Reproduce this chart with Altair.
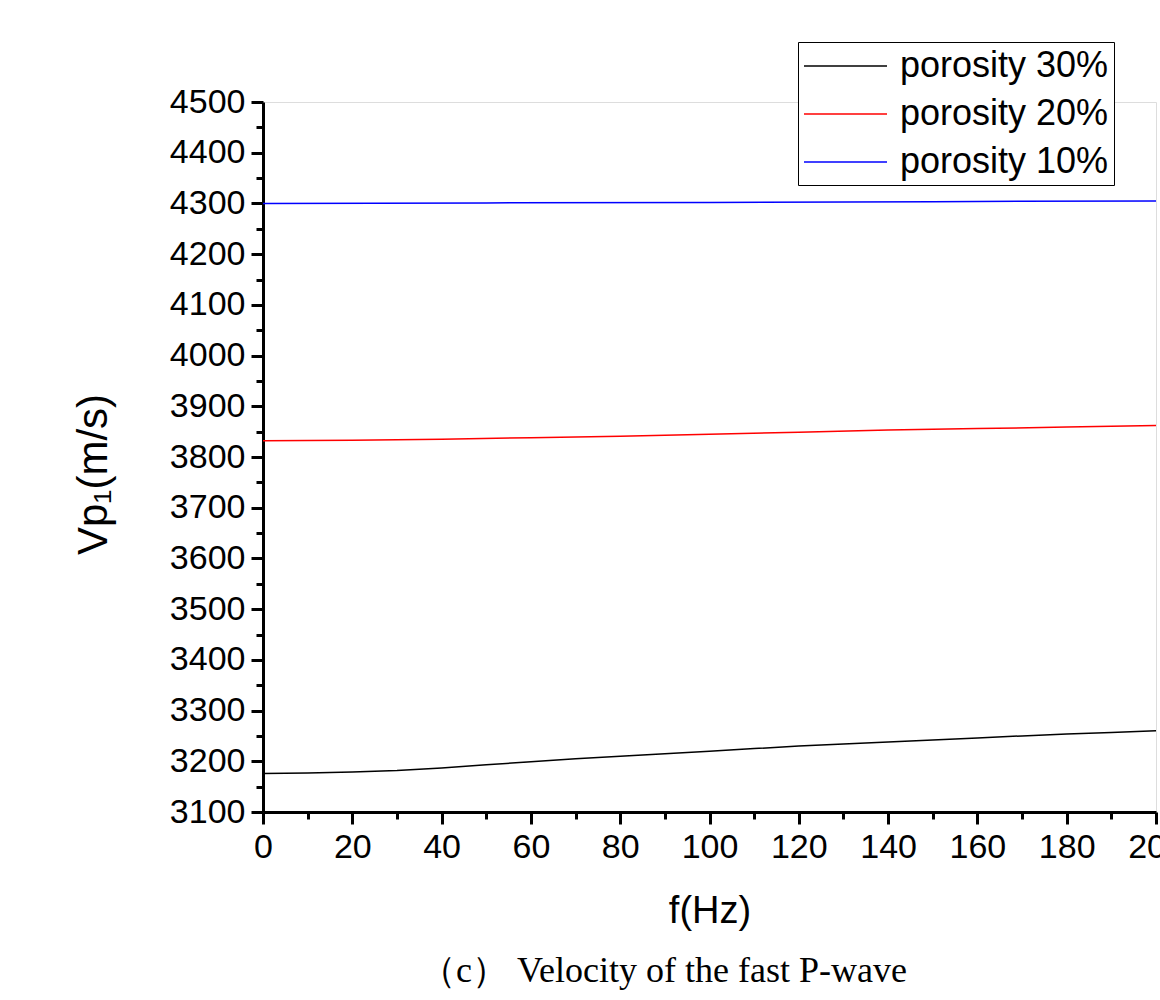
import altair as alt
import pandas as pd

# frequency (Hz)
freq_30 = [0, 10, 20, 30, 40, 50, 60, 70, 80, 90, 100, 110, 120, 130, 140, 150, 160, 170, 180, 190, 200]
vp_30 = [3176, 3177, 3179, 3182, 3187, 3193, 3199, 3205, 3210, 3215, 3220, 3225, 3230, 3234, 3238, 3242, 3246, 3250, 3254, 3257, 3260]

freq_20 = [0, 20, 40, 60, 80, 100, 120, 140, 160, 180, 200]
vp_20 = [3832, 3833, 3835, 3838, 3841, 3845, 3849, 3853, 3856, 3859, 3862]

freq_10 = [0, 50, 100, 150, 200]
vp_10 = [4300, 4301, 4302, 4303.5, 4305]

series_names = ["porosity 30%", "porosity 20%", "porosity 10%"]
series_colors = ["#000000", "#ff0000", "#0000ff"]

x_major = list(range(0, 201, 20))
x_minor = list(range(10, 200, 20))
y_major = list(range(3100, 4501, 100))
y_minor = list(range(3150, 4500, 100))

rows = []
for f, v in zip(freq_30, vp_30):
    rows.append({"f": f, "v": v, "s": series_names[0]})
for f, v in zip(freq_20, vp_20):
    rows.append({"f": f, "v": v, "s": series_names[1]})
for f, v in zip(freq_10, vp_10):
    rows.append({"f": f, "v": v, "s": series_names[2]})
df = pd.DataFrame(rows)

SANS = "Liberation Sans"

xscale = alt.Scale(domain=[0, 200], nice=False, zero=False)
yscale = alt.Scale(domain=[3100, 4500], nice=False, zero=False)

lines = alt.Chart(df).mark_line(strokeWidth=1.5, clip=True).encode(
    x=alt.X("f:Q", scale=xscale,
            axis=alt.Axis(values=x_major, title="f(Hz)", grid=False, format="d",
                          domainColor="black", domainWidth=3, tickColor="black",
                          tickWidth=3, tickSize=12, labelFontSize=34, labelFont=SANS,
                          labelColor="black", labelPadding=6, labelFlush=False,
                          titleFont=SANS, titleFontSize=38, titleFontWeight="normal",
                          titleColor="black", titlePadding=28)),
    y=alt.Y("v:Q", scale=yscale,
            axis=alt.Axis(values=y_major, title="Vp\u2081(m/s)", grid=False, format="d",
                          domainColor="black", domainWidth=3, tickColor="black",
                          tickWidth=3, tickSize=12, labelFontSize=34, labelFont=SANS,
                          labelColor="black", labelPadding=6, labelFlush=False,
                          titleFont=SANS, titleFontSize=42, titleFontWeight="normal",
                          titleColor="black", titleX=-170, titleY=372,
                          titleBaseline="middle", titleAlign="center")),
    color=alt.Color("s:N", sort=series_names,
                    scale=alt.Scale(domain=series_names, range=series_colors),
                    legend=alt.Legend(title=None, orient="none", legendX=535, legendY=-60,
                                      symbolType="M-1,0H3.611", symbolSize=1296,
                                      symbolStrokeWidth=1.5, symbolFillColor="transparent",
                                      labelFont=SANS,
                                      labelFontSize=36, labelColor="black",
                                      labelOffset=59, rowPadding=11, padding=5,
                                      strokeColor="black", fillColor="white",
                                      labelLimit=400)),
)

minor = alt.Chart(df).mark_line(opacity=0).encode(
    x=alt.X("f:Q", scale=xscale, title=None,
            axis=alt.Axis(values=x_minor, orient="bottom", labels=False, domain=False,
                          grid=False, tickColor="black", tickWidth=3, tickSize=7)),
    y=alt.Y("v:Q", scale=yscale, title=None,
            axis=alt.Axis(values=y_minor, orient="left", labels=False, domain=False,
                          grid=False, tickColor="black", tickWidth=3, tickSize=7)),
)

chart = alt.layer(lines, minor).resolve_axis(x="independent", y="independent").properties(
    width=893,
    height=710,
    autosize=alt.AutoSizeParams(type="none"),
    padding={"left": 263, "top": 102, "right": 4, "bottom": 184},
    title=alt.TitleParams(text="\uff08c\uff09 Velocity of the fast P-wave", orient="bottom",
                          anchor="middle", dx=-46, offset=24,
                          font="Liberation Serif", fontSize=36, fontWeight="normal",
                          color="black"),
).configure_view(stroke=None).configure(background="white")

chart.save("out.html", embed_options={"renderer": "svg", "actions": False})
